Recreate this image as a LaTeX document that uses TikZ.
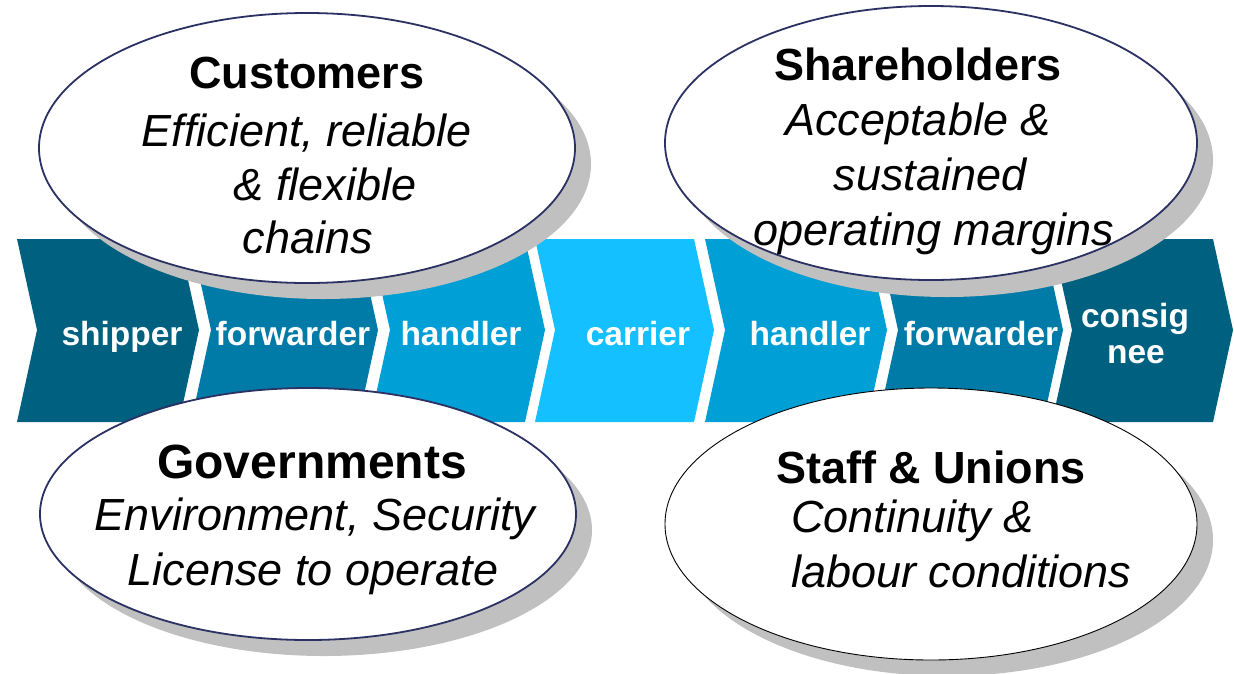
\documentclass[tikz,border=0pt]{standalone}
\usepackage{fontspec}
\setmainfont{Liberation Sans}
\definecolor{cdark}{HTML}{00607F}
\definecolor{cmid}{HTML}{007BA8}
\definecolor{clight}{HTML}{009FD6}
\definecolor{cbright}{HTML}{14C0FF}
\definecolor{navy}{HTML}{2B3163}
\definecolor{shadowgray}{HTML}{C0C0C0}
\tikzset{
  chevlabel/.style={text=white,font=\fontsize{33.5}{35}\selectfont\bfseries,anchor=base,inner sep=0pt},
  title/.style={font=\fontsize{45}{54}\selectfont\bfseries,anchor=base,inner sep=0pt},
  sub/.style={font=\fontsize{45}{54}\selectfont\itshape,anchor=base,inner sep=0pt},
  subleft/.style={font=\fontsize{45}{54}\selectfont\itshape,anchor=base west,inner sep=0pt},
  bubble/.style={fill=white,draw=navy,line width=1.8pt},
  shadowb/.style={fill=shadowgray},
}
\newcommand{\chevshape}[3]{%
  \fill[#3] ({#1-20},239) -- ({#2-20},239) -- (#2,330) -- ({#2-20},422) -- ({#1-20},422) -- (#1,330) -- cycle;}
\begin{document}
\begin{tikzpicture}[x=1pt,y=-1pt]
\useasboundingbox (0,0) rectangle (1234,673);
% chevron band
\chevshape{37}{199}{cdark}
\chevshape{211}{378}{cmid}
\chevshape{390}{545}{clight}
\chevshape{555}{714}{cbright}
\chevshape{725}{887}{clight}
\chevshape{898}{1063}{cmid}
\chevshape{1072}{1233}{cdark}
\node[chevlabel] (c1) at (122,345) {shipper};
\node[chevlabel] (c2) at (293,345) {forwarder};
\node[chevlabel] (c3) at (461,345) {handler};
\node[chevlabel] (c4) at (638,345) {carrier};
\node[chevlabel] (c5) at (810,345) {handler};
\node[chevlabel] (c6) at (981,345) {forwarder};
\node[chevlabel] (c7) at (1135,327) {consig};
\node[chevlabel] (c7b) at (1136,363) {nee};
% Customers
\fill[shadowb] (323,164) ellipse [x radius=268, y radius=135];
\draw[bubble] (307,148) ellipse [x radius=268, y radius=135];
\node[title] (cust) at (307,88) {Customers};
\node[sub] (cust1) at (307,146) {Efficient, reliable};
\node[sub] (cust2) at (325,200) {\& flexible};
\node[sub] (cust3) at (308,253) {chains};
% Shareholders
\fill[shadowb] (947,160) ellipse [x radius=266, y radius=137];
\draw[bubble] (931,143) ellipse [x radius=266, y radius=137];
\node[title] (share) at (918,80) {Shareholders};
\node[sub] (share1) at (918,135) {Acceptable \&};
\node[sub] (share2) at (930,190) {sustained};
\node[sub] (share3) at (934,245) {operating margins};
% Governments
\fill[shadowb] (324,530) ellipse [x radius=268, y radius=126];
\draw[bubble] (308,514) ellipse [x radius=268, y radius=126];
\node[title,font=\fontsize{48}{54}\selectfont\bfseries] (gov) at (312,478) {Governments};
\node[sub] (gov1) at (315,530) {Environment, Security};
\node[sub] (gov2) at (313,585) {License to operate};
% Staff & Unions
\fill[shadowb] (947,540) ellipse [x radius=266, y radius=136];
\draw[fill=white,draw=black,line width=0.9pt] (931,524) ellipse [x radius=266, y radius=136];
\node[title] (staff) at (931,483) {Staff \& Unions};
\node[subleft] (staff1) at (791,532) {Continuity \&};
\node[subleft] (staff2) at (791,587) {labour conditions};
\end{tikzpicture}
\end{document}
